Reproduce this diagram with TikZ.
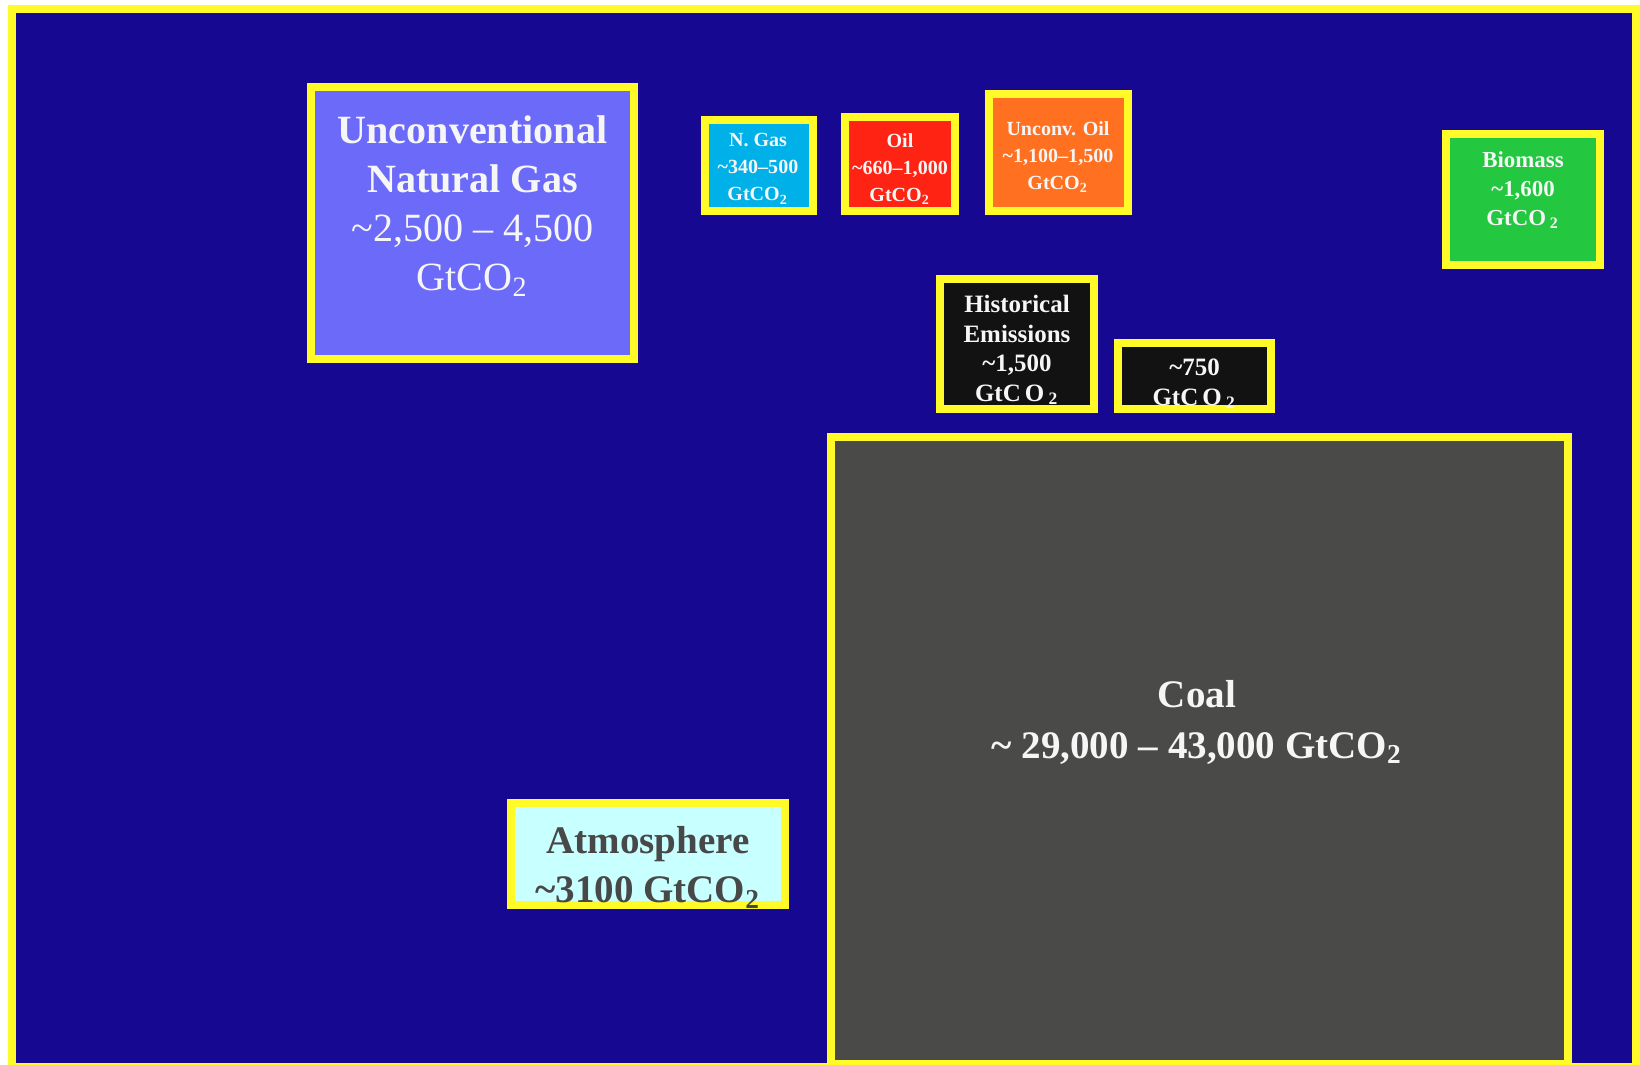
\documentclass[tikz,border=0pt]{standalone}
\usepackage{fontspec}
\setmainfont{Liberation Serif}
\usepackage{tikz}

\begin{document}
\begin{tikzpicture}[x=0.01cm, y=-0.01cm,
  box/.style={draw={rgb,255:red,255;green,250;blue,40}, line width=2.1pt},
  txt/.style={align=center, text={rgb,255:red,246;green,246;blue,246}, inner sep=0pt}]
\clip (0,0) rectangle (1640,1064);
\fill[white] (0,0) rectangle (1640,1064);
\fill[box, fill={rgb,255:red,22;green,8;blue,145}] (12,9) rectangle (1636,1067);

\fill[box, fill={rgb,255:red,108;green,106;blue,248}] (311,87) rectangle (634,359);
\node[txt, font=\fontsize{11.4}{13.9}\selectfont] (ungas) at (472.5,206) {\textbf{Unconventional}\\\textbf{Natural Gas}\\\textasciitilde2,500 -- 4,500\\GtCO\textsubscript{2}};

\fill[box, fill={rgb,255:red,0;green,176;blue,232}] (705,120) rectangle (813,211);
\node[txt, font=\bfseries\fontsize{5.7}{7.7}\selectfont] (ngas) at (758,169) {N. Gas\\\textasciitilde340--500\\GtCO\textsubscript{2}};

\fill[box, fill={rgb,255:red,255;green,35;blue,20}] (845,117) rectangle (955,211);
\node[txt, font=\bfseries\fontsize{5.7}{7.7}\selectfont] (oil) at (900,169) {Oil\\\textasciitilde660--1,000\\GtCO\textsubscript{2}};

\fill[box, fill={rgb,255:red,255;green,112;blue,32}] (989,94) rectangle (1128,211);
\node[txt, font=\bfseries\fontsize{5.7}{7.7}\selectfont] (unoil) at (1058,157) {Unconv. Oil\\\textasciitilde1,100--1,500\\GtCO\textsubscript{2}};

\fill[box, fill={rgb,255:red,36;green,200;blue,64}] (1446,134) rectangle (1600,265);
\node[txt, font=\bfseries\fontsize{6.5}{8.25}\selectfont] (biomass) at (1523,190) {Biomass\\\textasciitilde1,600\\GtCO\,\textsubscript{2}};

\fill[box, fill={rgb,255:red,18;green,18;blue,18}] (940,279) rectangle (1094,409);
\node[txt, font=\bfseries\fontsize{7.1}{8.4}\selectfont] (hist) at (1017,350) {Historical\\Emissions\\\textasciitilde1,500\\GtC\,O\,\textsubscript{2}};

\fill[box, fill={rgb,255:red,18;green,18;blue,18}] (1118,343) rectangle (1271,409);
\node[txt, font=\bfseries\fontsize{7.1}{8.4}\selectfont] (future) at (1194.5,384) {\textasciitilde750\\GtC\,O\,\textsubscript{2}};

\fill[box, fill={rgb,255:red,74;green,74;blue,72}] (831,437) rectangle (1568,1064);
\node[txt, font=\bfseries\fontsize{11.1}{14.5}\selectfont] (coal) at (1197,722) {Coal\\\textasciitilde\ 29,000 -- 43,000 GtCO\textsubscript{2}};

\fill[box, fill={rgb,255:red,200;green,255;blue,255}] (511,803) rectangle (785,905);
\node[txt, text={rgb,255:red,72;green,72;blue,72}, font=\bfseries\fontsize{11.1}{13.9}\selectfont] (atmos) at (648,867.5) {Atmosphere\\\textasciitilde3100 GtCO\textsubscript{2}};

\end{tikzpicture}
\end{document}
